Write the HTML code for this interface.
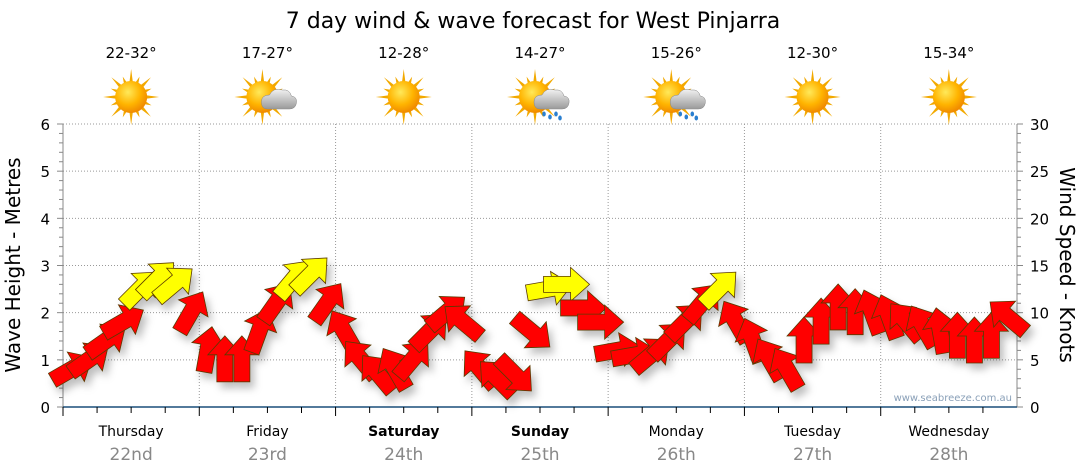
<!DOCTYPE html>
<html><head><meta charset="utf-8"><style>
body{margin:0;background:#fff;}
svg{display:block;font-family:"DejaVu Sans","Liberation Sans",sans-serif;}
</style></head><body>
<svg id="chart" width="1080" height="475" viewBox="0 0 1080 475">
<defs>
<radialGradient id="sunG" cx="40%" cy="35%" r="65%"><stop offset="0" stop-color="#ffe95a"/><stop offset="0.6" stop-color="#ffb400"/><stop offset="1" stop-color="#f08a00"/></radialGradient>
<linearGradient id="cloudG" x1="0" y1="0" x2="0" y2="1"><stop offset="0" stop-color="#f2f2f2"/><stop offset="1" stop-color="#9a9a9a"/></linearGradient>
<filter id="sh" x="-50%" y="-50%" width="200%" height="200%"><feDropShadow dx="4" dy="6" stdDeviation="4" flood-color="#000" flood-opacity="0.25"/></filter>
</defs>
<text x="533" y="28" font-size="22" text-anchor="middle" fill="#000">7 day wind &amp; wave forecast for West Pinjarra</text>
<g id="grid"></g>
<g id="axes"></g>
<g id="icons"></g>
<g id="arrows" filter="url(#sh)"></g>
<text x="1012" y="401" font-size="10" text-anchor="end" fill="#8aa0b8">www.seabreeze.com.au</text>
<text transform="translate(20,265) rotate(-90)" font-size="20" text-anchor="middle">Wave Height - Metres</text>
<text transform="translate(1060,265) rotate(90)" font-size="20" text-anchor="middle">Wind Speed - Knots</text>
</svg>
<script>
const days=["Thursday","Friday","Saturday","Sunday","Monday","Tuesday","Wednesday"];
const dates=["22nd","23rd","24th","25th","26th","27th","28th"];
const temps=["22-32°","17-27°","12-28°","14-27°","15-26°","12-30°","15-34°"];
const weather=["sun","cloud","sun","rain","rain","sun","sun"];
const waveTicks=[0,1,2,3,4,5,6];
const windTicks=[0,5,10,15,20,25,30];
const windSpeed=[4,5,7,9,12.5,13.5,13,10, 6,5,5,8,11,13.5,14,11, 8,5,3.5,4,5,8,10,9, 4,3,3.5,8,12.5,13,10.5,9, 6,5.5,5.5,7,9,11,12.5,9, 7,5,4,7,9,10.5,10,10, 9.5,9,8.5,8,7.5,7,7.5,9.5];
const windDir=[60,55,55,60,45,45,50,30, 10,0,0,20,35,40,45,35, 330,320,320,330,40,45,50,310, 320,315,135,130,80,90,90,90, 80,80,50,45,45,40,45,330, 340,330,330,0,0,0,0,340, 340,320,330,350,0,0,0,310];
const svg=document.getElementById('chart');
const NS='http://www.w3.org/2000/svg';
const X0=63,X1=1017,Y0=407,Y1=124;
const dayW=(X1-X0)/7;
function xT(i){return X0+(i+0.5)*dayW/8;}
function yWave(v){return Y0-(Y0-Y1)*v/6;}
function yWind(v){return Y0-(Y0-Y1)*v/30;}
function mk(tag,attrs,parent){const e=document.createElementNS(NS,tag);for(const k in attrs)e.setAttribute(k,attrs[k]);parent.appendChild(e);return e;}
const grid=document.getElementById('grid'),axes=document.getElementById('axes'),icons=document.getElementById('icons'),arr=document.getElementById('arrows');
waveTicks.forEach(t=>{
  if(t>0){const l=mk('line',{x1:X0,x2:X1,y1:yWave(t),y2:yWave(t),stroke:'#999','stroke-dasharray':'1,2'},grid);
  
  }
  const tx=mk('text',{x:50,y:yWave(t)+6,'font-size':15,'text-anchor':'end'},axes);tx.textContent=t;
  
  
});
windTicks.forEach(t=>{
  const tx=mk('text',{x:1030,y:yWind(t)+6,'font-size':15},axes);tx.textContent=t;
  
  
});
for(let v=0;v<=6.001;v+=0.2){mk('line',{x1:X0-(Math.abs(v-Math.round(v))<0.01?6:4),x2:X0,y1:yWave(v),y2:yWave(v),stroke:'#888'},axes);}
for(let v=0;v<=30;v+=1){mk('line',{x1:X1,x2:X1+(v%5==0?6:4),y1:yWind(v),y2:yWind(v),stroke:'#888'},axes);}
mk('line',{x1:X0,x2:X0,y1:Y1,y2:Y0,stroke:'#888'},axes);
mk('line',{x1:X1,x2:X1,y1:Y1,y2:Y0,stroke:'#888'},axes);
mk('line',{x1:X0,x2:X1,y1:Y0,y2:Y0,stroke:'#1a4f7a','stroke-width':1.5},axes);
for(let d=0;d<7;d++){
  const xs=X0+d*dayW, xc=xs+dayW/2;
  if(d>0){const g=mk('line',{x1:xs,x2:xs,y1:Y1,y2:Y0,stroke:'#999','stroke-dasharray':'1,2'},grid);
  
  }
  for(let q=0;q<4;q++){const xx=xs+q*dayW/4;mk('line',{x1:xx,x2:xx,y1:Y0,y2:Y0+(q==0?9:6),stroke:'#000'},axes);}
  const dn=mk('text',{x:xc,y:436,'font-size':14,'text-anchor':'middle','font-weight':(d==2||d==3)?'bold':'normal'},axes);dn.textContent=days[d];
  
  
  const dt=mk('text',{x:xc,y:460,'font-size':17,'text-anchor':'middle',fill:'#888'},axes);dt.textContent=dates[d];
  
  
  const tp=mk('text',{x:xc,y:58,'font-size':15,'text-anchor':'middle'},icons);tp.textContent=temps[d];
  
  
  const g=mk('g',{transform:'translate('+(xc)+',97)'},icons);
  
  
  const sx=weather[d]=='sun'?0:-5;
  for(let r=0;r<16;r++){const a=r*Math.PI/8,L=r%2?22:28;mk('polygon',{points:[sx+Math.cos(a)*L,Math.sin(a)*L,sx+Math.cos(a+0.13)*14,Math.sin(a+0.13)*14,sx+Math.cos(a-0.13)*14,Math.sin(a-0.13)*14].join(','),fill:'#f2a900'},g);}
  mk('circle',{cx:sx,cy:0,r:16,fill:'url(#sunG)'},g);
  if(weather[d]!='sun'){
    mk('path',{d:'M0 12 Q-6 12 -6 5 Q-6 -2 2 -2 Q6 -10 15 -7 Q22 -8 24 -1 Q30 0 29 6 Q28 12 22 12 Z',fill:'url(#cloudG)',stroke:'#888','stroke-width':0.5},g);
    if(weather[d]=='rain'){[[4,17],[10,20],[16,17],[20,21]].forEach(p=>mk('ellipse',{cx:p[0],cy:p[1],rx:1.8,ry:2.5,fill:'#2a7fd0'},g));}
  }
}
// wind arrows
for(let i=0;i<windSpeed.length;i++){
  const x=xT(i),y=yWind(windSpeed[i]),rot=windDir[i]-90;
  const col=windSpeed[i]>=12?'#ffff00':'#ff0000';
  const p=mk('polygon',{points:'-22,-8 5,-8 5,-17 24,0 5,17 5,8 -22,8',fill:col,stroke:'#5a3a00','stroke-width':0.8,transform:'translate('+x+','+y+') rotate('+rot+')'},arr);
  
  
}
</script>
</body></html>
